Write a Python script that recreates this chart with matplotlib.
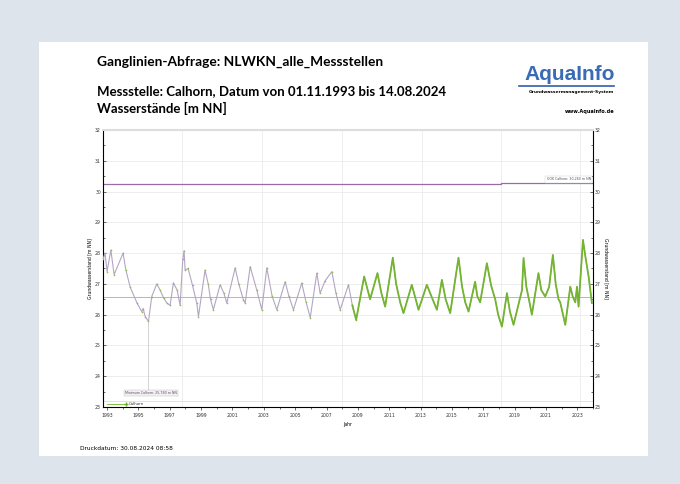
import numpy as np
import matplotlib.pyplot as plt
from matplotlib.patches import Rectangle
from matplotlib.ticker import MultipleLocator

# Ganglinie Calhorn (decimal years, m NN)
years = [1992.74, 1992.87, 1993.00, 1993.24, 1993.45, 1994.02, 1994.20, 1994.47, 1994.91,
         1995.21, 1995.30, 1995.43, 1995.64, 1995.85, 1996.17, 1996.38, 1996.60, 1996.81,
         1997.02, 1997.23, 1997.47, 1997.66, 1997.83, 1997.91, 1997.98, 1998.17,
         1998.45, 1998.72, 1998.83, 1999.25, 1999.45, 1999.60, 1999.78, 2000.21, 2000.45,
         2000.64, 2001.17, 2001.40, 2001.70, 2001.81, 2002.13, 2002.55, 2002.87, 2003.19,
         2003.53, 2003.83, 2004.36, 2004.60, 2004.89, 2005.42, 2005.70, 2005.96, 2006.38,
         2006.59, 2006.91, 2007.34, 2007.60, 2007.87, 2008.40, 2008.65, 2008.89, 2009.40,
         2009.78, 2010.25, 2010.50, 2010.74, 2011.23, 2011.44, 2011.70, 2011.91, 2012.44,
         2012.87, 2013.40, 2013.61, 2014.04, 2014.36, 2014.60, 2014.89, 2015.42, 2015.65,
         2015.85, 2016.06, 2016.48, 2016.62, 2016.80, 2017.23, 2017.50, 2017.76, 2017.95,
         2018.19, 2018.51, 2018.70, 2018.93, 2019.47, 2019.57, 2019.75, 2019.95, 2020.10,
         2020.52, 2020.70, 2020.95, 2021.20, 2021.44, 2021.62, 2021.80, 2021.91, 2022.23,
         2022.55, 2022.70, 2022.87, 2022.98, 2023.08, 2023.36, 2023.51, 2023.72, 2023.93]
levels = [27.80, 28.00, 27.40, 28.10, 27.30, 28.00, 27.45, 26.90, 26.38,
          26.10, 26.20, 25.94, 25.78, 26.59, 27.00, 26.80, 26.55, 26.38,
          26.30, 27.03, 26.80, 26.30, 27.80, 28.08, 27.45, 27.50,
          26.95, 26.38, 25.94, 27.45, 27.00, 26.50, 26.16, 26.97, 26.70,
          26.38, 27.52, 27.00, 26.48, 26.38, 27.56, 26.80, 26.16, 27.52,
          26.60, 26.16, 27.07, 26.60, 26.16, 27.03, 26.40, 25.90, 27.35,
          26.70, 27.10, 27.40, 26.70, 26.16, 26.97, 26.30, 25.83, 27.24,
          26.50, 27.35, 26.70, 26.26, 27.85, 27.00, 26.40, 26.05, 26.97,
          26.16, 26.97, 26.70, 26.16, 27.13, 26.50, 26.05, 27.85, 26.90,
          26.40, 26.10, 27.07, 26.60, 26.40, 27.67, 26.95, 26.50, 26.00,
          25.61, 26.70, 26.10, 25.67, 26.80, 27.84, 26.90, 26.40, 26.00,
          27.35, 26.80, 26.59, 26.90, 27.94, 27.00, 26.50, 26.40, 25.67,
          26.91, 26.60, 26.40, 26.91, 26.26, 28.43, 27.90, 27.24, 26.38]
dense_start = 2009.1  # from here daily values (green)

gok_years = [1992.74, 2018.15, 2018.15, 2024.0]
gok_levels = [30.25, 30.25, 30.29, 30.29]
mean_level = 26.56
min_year, min_level = 1995.64, 25.78
grid_years = [1997.8, 2002.9, 2008.0, 2013.1, 2018.15, 2023.2]
tick_years = list(range(1993, 2024, 2))

W, H = 680, 484


def fx(px):
    return px / W


def fy(py):
    return 1 - py / H


fig = plt.figure(figsize=(6.8, 4.84), dpi=100)
fig.patch.set_facecolor('#dde4eb')
fig.patches.append(Rectangle((fx(39), fy(456)), fx(648) - fx(39), fy(42) - fy(456),
                             transform=fig.transFigure, facecolor='white',
                             edgecolor='none', zorder=-5))

font = ['Lato', 'DejaVu Sans']
fig.text(fx(97), fy(62), 'Ganglinien-Abfrage: NLWKN_alle_Messstellen', fontsize=9.9,
         fontweight='bold', family=font, va='center')
fig.text(fx(97), fy(91), 'Messstelle: Calhorn, Datum von 01.11.1993 bis 14.08.2024',
         fontsize=9.5, fontweight='bold', family=font, va='center')
fig.text(fx(97), fy(108), 'Wasserstände [m NN]', fontsize=9.5, fontweight='bold',
         family=font, va='center')
fig.text(fx(615), fy(74), 'AquaInfo', fontsize=15, fontweight='bold', color='#3a6bb5',
         family=['Liberation Sans'], ha='right', va='center')
fig.lines.append(plt.Line2D([fx(519), fx(614)], [fy(86), fy(86)], color='#2f5fa8',
                            lw=1.2, transform=fig.transFigure))
fig.text(fx(614), fy(92), 'Grundwassermanagement-System', fontsize=3.2,
         fontweight='bold', ha='right', va='center')
fig.text(fx(614), fy(111), 'www.AquaInfo.de', fontsize=3.6, fontweight='bold',
         ha='right', va='center')
fig.text(fx(80), fy(449), 'Druckdatum: 30.08.2024 08:58', fontsize=4.2, va='center')

ax = fig.add_axes([fx(103), fy(407), fx(593) - fx(103), fy(130) - fy(407)])
ax.set_facecolor('none')
ax.set_xlim(1992.74, 2024.0)
ax.set_ylim(23, 32)

ax.yaxis.set_major_locator(MultipleLocator(1))
ax.yaxis.set_minor_locator(MultipleLocator(0.5))
ax.set_xticks(tick_years)
ax.xaxis.set_minor_locator(MultipleLocator(1))
ax.grid(axis='y', color='#ebebeb', lw=0.6)
for g in grid_years:
    ax.axvline(g, color='#ebebeb', lw=0.6, zorder=0)

ax.tick_params(which='both', labelsize=3.3, direction='in', right=True,
               labelright=True, width=0.5, pad=1.5, colors='#333333')
ax.tick_params(which='major', length=2.5)
ax.tick_params(which='minor', length=1.5)
ax.tick_params(axis='x', which='both', direction='out')
for s in ['left', 'right', 'bottom']:
    ax.spines[s].set_linewidth(0.8)
ax.spines['top'].set_color('#dddddd')
ax.spines['top'].set_linewidth(1.5)

ax.set_ylabel('Grundwasserstand [m NN]', fontsize=3.3, labelpad=2)
ax.set_xlabel('Jahr', fontsize=3.3, labelpad=3)
fig.text(fx(606), fy(268), 'Grundwasserstand [m NN]', fontsize=3.3, rotation=270,
         ha='center', va='center')

# reference lines
ax.plot(gok_years, gok_levels, color='#9b6aa8', lw=0.9)
ax.axhline(mean_level, color='#a9a9b4', lw=0.6)
ax.text(2023.85, 30.33, 'GOK Calhorn: 30,260 m NN', fontsize=2.3, ha='right',
        va='bottom', color='#555555',
        bbox=dict(facecolor='white', edgecolor='#cccccc', lw=0.3, pad=0.8))
ax.plot([min_year, min_year], [min_level, 23.55], color='#cccccc', lw=0.6)
ax.text(1994.15, 23.45, 'Minimum Calhorn: 25,780 m NN', fontsize=2.3, ha='left',
        va='center', color='#555555',
        bbox=dict(facecolor='#f4f0f6', edgecolor='#bbbbbb', lw=0.3, pad=0.8))

# series
yr = np.array(years)
lv = np.array(levels)
ax.plot(yr, lv, color='#b3a6c2', lw=0.8, zorder=3)
early = yr < dense_start
ax.plot(yr[early], lv[early], ls='none', marker='+', ms=1.6, mew=0.4,
        color='#8cc04a', zorder=4)
late = yr >= dense_start - 0.5
ax.plot(yr[late], lv[late], color='#74b530', lw=1.3, zorder=4)

# legend band along the bottom
ax.axhline(23.18, color='#dcdcdc', lw=0.6)
ax.plot([1993.0, 1994.2], [23.09, 23.09], color='#6fb22a', lw=0.6, marker='+',
        ms=2.5, markevery=[1], zorder=5)
ax.text(1994.4, 23.09, 'Calhorn', fontsize=2.8, va='center', color='#333333')

fig.savefig('out.png', dpi=100, facecolor=fig.get_facecolor())
